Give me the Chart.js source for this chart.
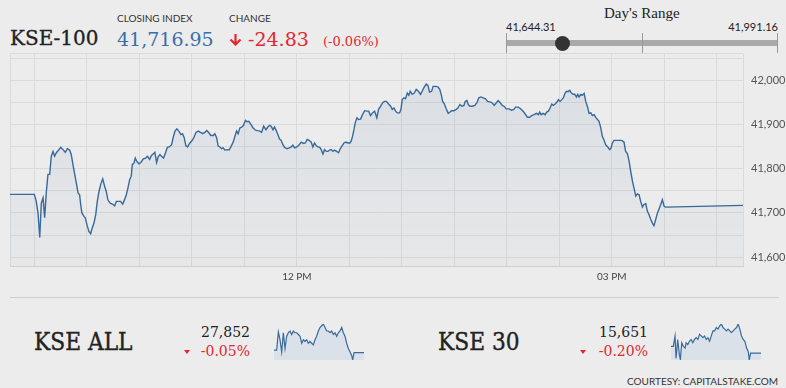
<!DOCTYPE html>
<html>
<head>
<meta charset="utf-8">
<script src="https://cdn.jsdelivr.net/npm/chart.js@4/dist/chart.umd.min.js"></script>
<style>
  body { margin: 0; background: #ececec; }
  #page { position: relative; width: 786px; height: 388px; overflow: hidden; background: #ececec; color: #222; }
  .t { position: absolute; white-space: nowrap; line-height: 1; }
  .serif { font-family: "DejaVu Serif", serif; }
  .big { font-family: "DejaVu Serif", serif; font-size: 25px; transform: scaleX(0.87); transform-origin: 0 0; -webkit-text-stroke: 0.4px #222; }
  .sans { font-family: Lato, "Open Sans", sans-serif; }
  .red { color: #e3262e; }
  canvas { position: absolute; }
</style>
</head>
<body>
<div id="page">
  <!-- header -->
  <div class="t serif" style="left:10px; top:28.4px; font-size:20px; -webkit-text-stroke:0.3px #222;">KSE-100</div>
  <div class="t sans" style="left:117px; top:13.3px; font-size:10px; color:#333;">CLOSING INDEX</div>
  <div class="t serif" id="closeVal" style="left:117px; top:29.5px; font-size:19px; color:#3b6ea8;"></div>
  <div class="t sans" style="left:229px; top:13.3px; font-size:10px; color:#333;">CHANGE</div>
  <svg style="position:absolute; left:229px; top:33px;" width="13" height="13" viewBox="0 0 13 13">
    <path d="M6.5 1 V11.5 M1.5 6.5 L6.5 11.5 L11.5 6.5" fill="none" stroke="#e3262e" stroke-width="2.2"/>
  </svg>
  <div class="t serif red" id="chgVal" style="left:248px; top:29.5px; font-size:19px;"></div>
  <div class="t serif red" id="chgPct" style="left:323px; top:34.6px; font-size:13px;"></div>

  <!-- day's range -->
  <div class="t" style="left:604px; top:5.7px; font-size:15px; font-family:'Liberation Serif', serif;">Day's Range</div>
  <div class="t sans" id="lowVal" style="left:506px; top:20.8px; font-size:11px;"></div>
  <div class="t sans" id="highVal" style="right:8px; top:20.8px; font-size:11px;"></div>
  <div style="position:absolute; left:506px; top:39.5px; width:272px; height:6.5px; background:#a9a9a9;"></div>
  <div style="position:absolute; left:506px; top:33px; width:1px; height:20px; background:#999;"></div>
  <div style="position:absolute; left:642px; top:33px; width:1px; height:20px; background:#999;"></div>
  <div style="position:absolute; left:777px; top:33px; width:1px; height:20px; background:#999;"></div>
  <div id="rangeDot" style="position:absolute; top:35.5px; width:15px; height:15px; border-radius:50%; background:#333;"></div>

  <!-- canvas is set so the plot area lands at x 10..743, y 54..266 after Chart.js adds label padding -->
  <canvas id="kseChart" width="781" height="245" style="left:5px; top:39px;"></canvas>

  <div style="position:absolute; left:10px; top:296.5px; width:769px; height:1px; background:#cfcfcf;"></div>

  <!-- KSE ALL -->
  <div class="t big" style="left:34px; top:328.8px;">KSE ALL</div>
  <div class="t serif" id="allVal" style="right:536px; top:325px; font-size:14px;"></div>
  <div style="position:absolute; left:184px; top:350px; width:0; height:0; border-left:3px solid transparent; border-right:3px solid transparent; border-top:4px solid #e3262e;"></div>
  <div class="t serif red" id="allPct" style="right:536px; top:344.4px; font-size:14px;"></div>
  <canvas id="allChart" width="90" height="38" style="left:274px; top:323px;"></canvas>

  <!-- KSE 30 -->
  <div class="t big" style="left:438px; top:328.8px;">KSE 30</div>
  <div class="t serif" id="k30Val" style="right:138px; top:325px; font-size:14px;"></div>
  <div style="position:absolute; left:580px; top:350px; width:0; height:0; border-left:3px solid transparent; border-right:3px solid transparent; border-top:4px solid #e3262e;"></div>
  <div class="t serif red" id="k30Pct" style="right:138px; top:344.4px; font-size:14px;"></div>
  <canvas id="k30Chart" width="90" height="38" style="left:671px; top:323px;"></canvas>

  <div class="t sans" style="right:8px; top:376px; font-size:10px; color:#333;">COURTESY: CAPITALSTAKE.COM</div>
</div>

<script>
// Header numbers
let closeIndex = 41716.95
let prevClose = 41741.78
let dayLow = 41644.31
let dayHigh = 41991.16

// KSE-100 intraday: minutes since midnight and index level
let kseTimes = [
    556, 569.9, 571.0, 572.0, 573.0, 573.9, 574.9, 575.8, 576.8, 577.7, 578.7, 579.6, 580.6, 581.5, 582.5,
    583.8, 585.0, 586.3, 587.6, 588.8, 590.1, 591.0, 592.0, 593.0, 593.9, 594.9, 595.8, 596.4, 597.1, 598.3,
    599.0, 600.2, 601.1, 602.1, 603.0, 604.0, 605.0, 605.9, 606.9, 607.8, 609.0, 610.1, 611.0, 612.0, 613.3,
    614.5, 615.8, 616.8, 618.1, 619.2, 620.4, 621.5, 622.5, 623.4, 624.4, 625.3, 625.9, 626.9, 627.6, 628.4,
    629.7, 630.8, 632.2, 633.5, 634.6, 635.8, 636.9, 638.1, 638.8, 639.8, 640.7, 641.7, 642.6, 643.8, 644.9,
    645.9, 647.0, 648.4, 649.3, 650.3, 651.4, 652.5, 653.7, 654.6, 655.6, 656.5, 657.5, 658.8, 660.2, 661.3,
    662.3, 663.6, 664.9, 666.1, 667.4, 668.5, 669.7, 670.8, 672.2, 673.1, 674.1, 675.0, 676.0, 676.9, 677.9,
    678.8, 680.2, 681.3, 682.6, 683.6, 684.5, 685.5, 686.4, 687.4, 688.4, 689.3, 690.6, 691.6, 692.5, 693.7,
    695.0, 696.4, 697.5, 698.8, 699.8, 701.0, 702.3, 703.4, 704.4, 705.3, 706.3, 707.2, 708.2, 709.1, 710.1,
    711.0, 712.0, 713.0, 714.3, 715.6, 716.8, 717.7, 718.7, 720.0, 721.3, 722.5, 723.8, 724.8, 725.9, 727.0,
    728.2, 729.1, 730.1, 731.0, 732.0, 733.1, 733.9, 734.9, 735.8, 736.8, 737.7, 738.7, 739.6, 740.6, 741.5,
    742.7, 743.8, 744.8, 745.7, 746.9, 748.0, 749.1, 750.3, 751.0, 751.8, 752.6, 753.3, 754.3, 755.2, 756.4,
    757.5, 758.7, 759.8, 761.0, 762.1, 763.2, 764.4, 765.7, 766.7, 767.8, 769.0, 770.1, 771.2, 772.4, 773.6,
    774.5, 775.5, 776.4, 777.4, 778.7, 779.5, 780.2, 781.2, 782.1, 783.1, 784.0, 784.8, 785.9, 787.1, 788.2,
    789.4, 790.7, 791.6, 792.6, 793.9, 794.9, 795.8, 797.0, 797.9, 799.3, 800.6, 801.6, 802.5, 803.3, 804.2,
    805.4, 806.5, 807.5, 808.4, 809.7, 811.1, 812.0, 813.2, 814.3, 815.5, 816.2, 817.2, 817.9, 818.9, 820.2,
    821.7, 822.9, 824.0, 825.2, 826.5, 827.8, 829.0, 830.3, 831.6, 832.8, 834.0, 835.1, 836.2, 837.4, 838.7,
    839.6, 841.2, 842.7, 844.0, 845.0, 846.6, 848.0, 849.3, 850.4, 851.8, 853.1, 854.2, 855.6, 856.9, 858.1,
    858.8, 859.6, 860.7, 861.9, 862.8, 863.8, 864.7, 865.7, 866.6, 867.6, 868.5, 869.5, 870.4, 871.4, 872.3,
    873.3, 874.1, 875.0, 876.0, 876.9, 877.9, 878.8, 879.8, 880.5, 881.3, 882.2, 883.2, 884.2, 885.1, 886.1,
    887.0, 888.0, 888.9, 889.9, 890.8, 891.8, 892.7, 893.7, 894.6, 895.6, 896.5, 897.7, 898.8, 899.6, 900.3,
    901.3, 902.6, 904.1, 905.7, 907.0, 907.9, 908.9, 909.9, 910.8, 911.8, 912.7, 913.7, 914.6, 915.6, 916.5,
    917.5, 918.4, 919.4, 920.3, 921.3, 922.2, 923.2, 924.1, 925.1, 926.1, 927.0, 928.0, 928.9, 929.9, 930.8,
    975
]
let kseValues = [
    41741.78, 41741.78, 41726, 41700, 41644.31, 41722, 41734, 41689, 41749, 41787, 41787, 41828, 41839, 41828, 41836,
    41842, 41848, 41843, 41837, 41845, 41842, 41832, 41809, 41787, 41768, 41745, 41741, 41719, 41700, 41692,
    41689, 41670, 41658, 41653, 41666, 41677, 41696, 41726, 41749, 41764, 41777, 41760, 41749, 41729, 41722,
    41720, 41716, 41726, 41726, 41726, 41720, 41730, 41741, 41756, 41775, 41783, 41809, 41813, 41824, 41817,
    41811, 41814, 41822, 41824, 41828, 41821, 41830, 41834, 41837, 41814, 41827, 41832, 41828, 41824, 41836,
    41848, 41849, 41854, 41871, 41885, 41890, 41885, 41877, 41879, 41870, 41852, 41849, 41858, 41864, 41872,
    41882, 41885, 41882, 41879, 41882, 41886, 41881, 41875, 41875, 41879, 41870, 41851, 41849, 41845, 41847,
    41842, 41843, 41842, 41852, 41860, 41872, 41885, 41879, 41892, 41894, 41897, 41909, 41906, 41907, 41900,
    41892, 41887, 41886, 41885, 41882, 41896, 41888, 41894, 41898, 41896, 41888, 41894, 41886, 41877, 41867,
    41864, 41854, 41848, 41845, 41847, 41849, 41853, 41847, 41849, 41854, 41860, 41857, 41858, 41866, 41864,
    41860, 41849, 41858, 41852, 41849, 41848, 41843, 41833, 41843, 41839, 41839, 41842, 41843, 41839, 41842,
    41839, 41836, 41845, 41851, 41858, 41860, 41858, 41858, 41862, 41873, 41888, 41903, 41915, 41911, 41912,
    41922, 41931, 41930, 41930, 41920, 41926, 41930, 41915, 41934, 41941, 41949, 41952, 41952, 41946, 41941,
    41934, 41937, 41930, 41926, 41926, 41934, 41956, 41960, 41958, 41971, 41966, 41975, 41968, 41971, 41979,
    41975, 41968, 41975, 41983, 41991.16, 41988, 41973, 41975, 41986, 41986, 41985, 41980, 41968, 41952, 41947,
    41935, 41925, 41928, 41931, 41931, 41934, 41937, 41945, 41941, 41943, 41952, 41954, 41945, 41941, 41941,
    41943, 41949, 41960, 41962, 41960, 41958, 41952, 41951, 41949, 41943, 41949, 41954, 41949, 41943, 41940,
    41935, 41935, 41932, 41934, 41939, 41939, 41935, 41930, 41924, 41916, 41916, 41920, 41922, 41925, 41922,
    41928, 41922, 41925, 41922, 41928, 41930, 41937, 41946, 41943, 41946, 41950, 41956, 41952, 41956, 41960,
    41971, 41975, 41974, 41977, 41971, 41968, 41968, 41962, 41968, 41962, 41968, 41966, 41970, 41952, 41940,
    41925, 41926, 41920, 41922, 41916, 41911, 41907, 41892, 41873, 41864, 41854, 41849, 41843, 41847, 41858,
    41864, 41864, 41864, 41864, 41860, 41839, 41834, 41817, 41794, 41772, 41756, 41738, 41743, 41741, 41726,
    41713, 41719, 41721, 41704, 41696, 41686, 41677, 41671, 41685, 41700, 41709, 41719, 41730, 41715, 41713,
    41716.95
]

// Axis settings
let timeMin = 556 // 9:16 AM
let timeMax = 975 // 4:15 PM
let timeGrid = [556, 570, 600, 630, 660, 690, 720, 750, 780, 810, 840, 870, 900, 930, 960, 975]
let timeLabels = {720: '12 PM', 900: '03 PM'}
let yMin = 41580
let yMax = 42060
let yGrid = [41580, 41600, 41650, 41700, 41750, 41800, 41850, 41900, 41950, 42000, 42050, 42060]

// KSE ALL sparkline
let allTimes = [556, 568.4, 576.2, 583.9, 591.7, 599.5, 607.2, 615.0, 622.7, 630.5, 638.3, 646.0, 653.8, 661.5, 669.3,
    677.1, 684.8, 692.6, 700.3, 708.1, 715.9, 723.6, 731.4, 739.1, 746.9, 754.7, 762.4, 770.2, 777.9, 785.7,
    793.5, 801.2, 809.0, 816.7, 824.5, 832.3, 840.0, 847.8, 855.5, 863.3, 871.1, 878.8, 886.6, 894.3, 902.1,
    909.9, 917.6, 922.3, 928.5, 975]
let allValues = [27866, 27866, 27970, 27926, 27856, 27966, 27876, 27946, 27966, 27976, 27956, 27976, 27966, 27966, 27956,
    27946, 27906, 27926, 27916, 27926, 27906, 27916, 27906, 27896, 27926, 27946, 27976, 27996, 28006, 28016,
    27996, 27976, 27976, 27966, 27976, 27956, 27966, 27946, 27966, 27976, 27996, 27966, 27946, 27906, 27876,
    27856, 27836, 27810, 27852, 27852]
let allClose = '27,852'
let allChange = '-0.05%'

// KSE 30 sparkline
let k30Times = [556, 566.9, 574.8, 579.5, 587.3, 595.1, 599.8, 606.0, 613.8, 621.7, 626.4, 634.2, 642.0, 649.8, 657.6,
    665.4, 673.3, 681.1, 688.9, 696.7, 704.5, 712.3, 720.2, 728.0, 735.8, 743.6, 751.4, 759.2, 767.1, 774.9,
    782.7, 790.5, 798.3, 806.1, 814.0, 821.8, 829.6, 837.4, 845.2, 853.0, 860.9, 868.7, 876.5, 884.3, 892.1,
    899.9, 907.8, 915.6, 920.3, 926.5, 975]
let k30Values = [15682, 15682, 15729, 15628, 15713, 15643, 15623, 15698, 15682, 15674, 15698, 15690, 15705, 15713, 15698,
    15713, 15721, 15713, 15736, 15729, 15721, 15729, 15713, 15721, 15705, 15729, 15752, 15752, 15767, 15760,
    15775, 15783, 15767, 15760, 15752, 15760, 15752, 15744, 15752, 15760, 15767, 15783, 15760, 15729, 15713,
    15705, 15674, 15659, 15620, 15651, 15651]
let k30Close = '15,651'
let k30Change = '-0.20%'

// Fill in header text
let fmt = function (v) {
    return v.toLocaleString('en-US', {minimumFractionDigits: 2, maximumFractionDigits: 2})
}
let change = closeIndex - prevClose
document.getElementById('closeVal').textContent = fmt(closeIndex)
document.getElementById('chgVal').textContent = '-' + fmt(Math.abs(change))
document.getElementById('chgPct').textContent = '(-' + (Math.abs(change) / prevClose * 100).toFixed(2) + '%)'
document.getElementById('lowVal').textContent = fmt(dayLow)
document.getElementById('highVal').textContent = fmt(dayHigh)
document.getElementById('allVal').textContent = allClose
document.getElementById('allPct').textContent = allChange
document.getElementById('k30Val').textContent = k30Close
document.getElementById('k30Pct').textContent = k30Change

// Day's range dot, placed on the bar by where the close sits in the range
let rangePos = (closeIndex - dayLow) / (dayHigh - dayLow)
document.getElementById('rangeDot').style.left = (506 + rangePos * 272 - 7.5) + 'px'

let toPoints = function (times, values) {
    return times.map(function (t, i) { return {x: t, y: values[i]} })
}

// Main chart
let mainCtx = document.getElementById('kseChart').getContext('2d')
new Chart(mainCtx, {
    type: 'line',
    data: {
        datasets: [{
            data: toPoints(kseTimes, kseValues),
            borderColor: '#37699b',
            borderWidth: 1.4,
            pointRadius: 0,
            tension: 0,
            fill: 'start',
            backgroundColor: function (context) {
                let area = context.chart.chartArea
                if (!area) return 'rgba(60,100,140,0.08)'
                let g = context.chart.ctx.createLinearGradient(0, area.top, 0, area.bottom)
                g.addColorStop(0, 'rgba(70,110,160,0.11)')
                g.addColorStop(1, 'rgba(70,110,160,0.03)')
                return g
            }
        }]
    },
    options: {
        responsive: false,
        animation: false,
        devicePixelRatio: 1,
        layout: {padding: 0},
        plugins: {legend: {display: false}, tooltip: {enabled: false}},
        scales: {
            x: {
                type: 'linear',
                min: timeMin,
                max: timeMax,
                afterBuildTicks: function (scale) {
                    scale.ticks = timeGrid.map(function (v) { return {value: v} })
                },
                afterFit: function (scale) { scale.height = 18 },
                grid: {color: '#dadada', drawTicks: false},
                border: {color: '#cfcfcf'},
                ticks: {
                    autoSkip: false,
                    maxRotation: 0,
                    padding: 5,
                    color: '#444',
                    font: {family: 'Lato', size: 10},
                    callback: function (v) { return timeLabels[v] || '' }
                }
            },
            y: {
                position: 'right',
                min: yMin,
                max: yMax,
                afterBuildTicks: function (scale) {
                    scale.ticks = yGrid.map(function (v) { return {value: v} })
                },
                afterFit: function (scale) { scale.width = 43 },
                grid: {color: '#dadada', drawTicks: false},
                border: {display: false},
                ticks: {
                    padding: 8,
                    color: '#555',
                    font: {family: 'Lato', size: 11},
                    callback: function (v) { return v % 100 === 0 ? v.toLocaleString('en-US') : '' }
                }
            }
        }
    }
})

// Small sparkline charts at the bottom
let makeSpark = function (id, times, values) {
    new Chart(document.getElementById(id).getContext('2d'), {
        type: 'line',
        data: {
            datasets: [{
                data: toPoints(times, values),
                borderColor: '#3a6a9a',
                borderWidth: 1.2,
                pointRadius: 0,
                tension: 0,
                fill: 'start',
                backgroundColor: '#dae1e9'
            }]
        },
        options: {
            responsive: false,
            animation: false,
            devicePixelRatio: 1,
            layout: {padding: {top: 1, bottom: 1}},
            plugins: {legend: {display: false}, tooltip: {enabled: false}},
            scales: {
                x: {type: 'linear', display: false, min: timeMin, max: timeMax},
                y: {display: false, min: Math.min(...values), max: Math.max(...values)}
            }
        }
    })
}
makeSpark('allChart', allTimes, allValues)
makeSpark('k30Chart', k30Times, k30Values)
</script>
</body>
</html>
